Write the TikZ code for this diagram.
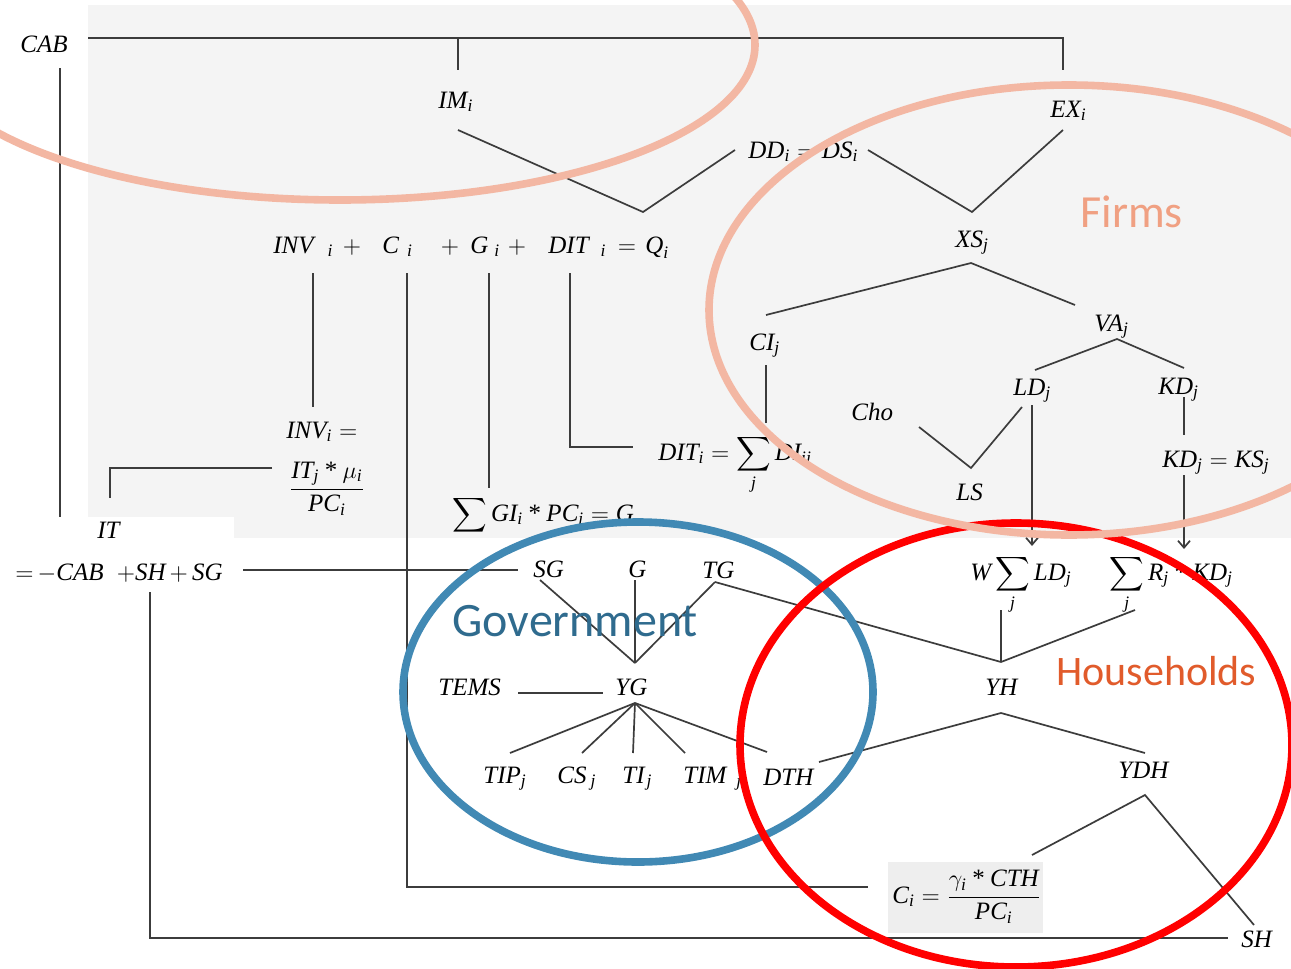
\documentclass[tikz,border=0pt]{standalone}
\usepackage{amsmath}
\usepackage{fontspec}
\setmainfont{Liberation Serif}
\newfontfamily\calib{Carlito}
\usetikzlibrary{arrows.meta}

\definecolor{panel}{HTML}{F4F4F4}
\definecolor{boxgray}{HTML}{EEEEEE}
\definecolor{linec}{HTML}{3C3C3C}
\definecolor{salmon}{HTML}{F3B7A3}
\definecolor{govring}{HTML}{4189B4}
\definecolor{hhring}{HTML}{FF0000}
\definecolor{firmtxt}{HTML}{F0A082}
\definecolor{govtxt}{HTML}{2F6B8E}
\definecolor{hhtxt}{HTML}{E15B2B}

% italic variable names in the serif text font
\newcommand\iv[1]{\text{\itshape #1}}
\newcommand\tms{\mathbin{\text{*}}}

\begin{document}
\begin{tikzpicture}[x=0.5pt,y=-0.5pt,
  txt/.style={inner sep=0pt,anchor=base west,font=\fontsize{12.5}{15}\selectfont},
  txtc/.style={txt,anchor=base},
  sector/.style={inner sep=0pt,anchor=base west},
  link/.style={draw=linec,line width=0.85pt},
  arr/.style={link,-{Straight Barb[length=3.5pt,width=6pt]}},
  ring/.style={line width=3.8pt}]

\useasboundingbox (0,0) rectangle (1291,969);
\clip (0,0) rectangle (1291,969);

% backgrounds
\fill[white] (0,0) rectangle (1291,969);
\fill[panel] (88,5) rectangle (1291,538);
\fill[white] (0,517) rectangle (234,540);
\fill[boxgray] (888,862) rectangle (1043,933);

% ---------- text nodes ----------
\node[txt] (cab) at (20,52) {\itshape CAB};
\node[txt] (im) at (438,108) {$\iv{IM}_{\iv{i}}$};
\node[txt] (ex) at (1050,117) {$\iv{EX}_{\iv{i}}$};
\node[txt] (dd) at (748,158) {$\iv{DD}_{\iv{i}}=\iv{DS}_{\iv{i}}$};
\node[txt] (xs) at (955,247) {$\iv{XS}_{\iv{j}}$};

\node[txt] (inv) at (273,253) {$\iv{INV}\hspace{7pt}{}_{\iv{i}}$};
\node[txtc] (plusA) at (352,253) {$+$};
\node[txt] (cterm) at (382,253) {$\iv{C}\hspace{4pt}{}_{\iv{i}}$};
\node[txtc] (plusB) at (450,253) {$+$};
\node[txt] (gterm) at (470,253) {$\iv{G}\hspace{3pt}{}_{\iv{i}}$};
\node[txtc] (plusC) at (517,253) {$+$};
\node[txt] (dit) at (548,253) {$\iv{DIT}\hspace{6pt}{}_{\iv{i}}$};
\node[txtc] (eqsign) at (627,253) {$=$};
\node[txt] (qterm) at (645,253) {$\iv{Q}_{\iv{i}}$};

\node[txt] (cij) at (749,350) {$\iv{CI}_{\iv{j}}$};
\node[txt] (va) at (1094,331) {$\iv{VA}_{\iv{j}}$};
\node[txt] (ld) at (1013,395) {$\iv{LD}_{\iv{j}}$};
\node[txt] (kd) at (1158,394) {$\iv{KD}_{\iv{j}}$};
\node[txt] (cho) at (851,420) {\itshape Cho};
\node[txt] (ls) at (956,500) {\itshape LS};
\node[txt] (kdks) at (1162,467) {$\iv{KD}_{\iv{j}}=\iv{KS}_{\iv{j}}$};
\node[txt] (ditsum) at (658,460) {$\iv{DIT}_{\iv{i}}=\displaystyle\sum_{\iv{j}}\iv{DI}_{\iv{ij}}$};

\node[txt] (inveq) at (286,438) {$\iv{INV}_{\iv{i}}=$};
\node[txtc] (invfrac) at (327,495) {$\dfrac{\iv{IT}_{\iv{j}}\tms\mu_{\iv{i}}}{\iv{PC}_{\iv{i}}}$};
\node[txt] (gsum) at (452,521) {$\displaystyle\sum\nolimits\iv{GI}_{\iv{i}}\tms\iv{PC}_{\iv{i}}=\iv{G}$};

\node[txt] (it) at (97,538) {\itshape IT};
\node[txt] (iteq) at (15,580) {${=}\,{-}\iv{CAB}\;\;{+}\iv{SH}\,{+}\,\iv{SG}$};

\node[txt] (sg) at (533,577) {\itshape SG};
\node[txt] (gov) at (628,577) {\itshape G};
\node[txt] (tg) at (702,578) {\itshape TG};
\node[txt] (wld) at (970,580) {$\iv{W}\displaystyle\sum_{\iv{j}}\iv{LD}_{\iv{j}}$};
\node[txt] (rkd) at (1109,580) {$\displaystyle\sum_{\iv{j}}\iv{R}_{\iv{j}}\tms\iv{KD}_{\iv{j}}$};

\node[txt] (tems) at (438,695) {\itshape TEMS};
\node[txt] (yg) at (615,695) {\itshape YG};
\node[txt] (yh) at (985,695) {\itshape YH};

\node[txt] (tip) at (483,783) {$\iv{TIP}_{\iv{j}}$};
\node[txt] (cs) at (557,783) {$\iv{CS}\hspace{2pt}{}_{\iv{j}}$};
\node[txt] (ti) at (622,783) {$\iv{TI}\hspace{1pt}{}_{\iv{j}}$};
\node[txt] (tim) at (683,783) {$\iv{TIM}\hspace{5pt}{}_{\iv{j}}$};
\node[txt] (dth) at (763,785) {\itshape DTH};
\node[txt] (ydh) at (1118,778) {\itshape YDH};
\node[txt] (ceq) at (892,903) {$\iv{C}_{\iv{i}}=\dfrac{\gamma_{\iv{i}}\tms\iv{CTH}}{\iv{PC}_{\iv{i}}}$};
\node[txt] (sh) at (1241,947) {\itshape SH};

% ---------- connector end points ----------
\coordinate (cabRight) at (88,38);
\coordinate (exCorner) at (1063,38);
\coordinate (exTop) at (1063,70);
\coordinate (imJoin) at (458,38);
\coordinate (imTop) at (458,70);
\coordinate (cabFoot) at (60,68);
\coordinate (cabEnd) at (60,517);
\coordinate (imFoot) at (458,130);
\coordinate (qJoin) at (643,212);
\coordinate (ddLeft) at (735,150);
\coordinate (dsRight) at (868,150);
\coordinate (xsJoin) at (972,212);
\coordinate (exFoot) at (1063,130);
\coordinate (ciHead) at (766,315);
\coordinate (xsFoot) at (971,263);
\coordinate (vaHead) at (1075,305);
\coordinate (ldHead) at (1035,370);
\coordinate (vaFoot) at (1117,339);
\coordinate (kdHead) at (1184,368);
\coordinate (kdFoot) at (1184,397);
\coordinate (ksHead) at (1184,435);
\coordinate (ksFoot) at (1184,475);
\coordinate (rkdHead) at (1184,549);
\coordinate (choEnd) at (919,427);
\coordinate (lsJoin) at (971,468);
\coordinate (ldLeft) at (1022,407);
\coordinate (ldFoot) at (1032,405);
\coordinate (wldHead) at (1032,546);
\coordinate (ciFoot) at (766,365);
\coordinate (ciEnd) at (766,423);
\coordinate (invFoot) at (313,273);
\coordinate (invHead) at (313,407);
\coordinate (cFoot) at (407,273);
\coordinate (cCorner) at (407,887);
\coordinate (ceqLeft) at (868,887);
\coordinate (gFoot) at (489,273);
\coordinate (gsumHead) at (489,488);
\coordinate (ditFoot) at (570,273);
\coordinate (ditCorner) at (570,447);
\coordinate (ditsumLeft) at (633,447);
\coordinate (fracLeft) at (272,468);
\coordinate (itCorner) at (110,468);
\coordinate (itHead) at (110,498);
\coordinate (shFoot) at (150,592);
\coordinate (shCorner) at (150,938);
\coordinate (shLeft) at (1228,938);
\coordinate (iteqRight) at (243,570);
\coordinate (sgLeft) at (518,570);
\coordinate (sgFoot) at (540,580);
\coordinate (govFoot) at (635,580);
\coordinate (tgFoot) at (715,582);
\coordinate (ygHead) at (635,663);
\coordinate (yhHead) at (1001,662);
\coordinate (rkdFoot) at (1135,610);
\coordinate (wldFoot) at (1001,610);
\coordinate (temsRight) at (518,693);
\coordinate (ygLeft) at (603,693);
\coordinate (ygFoot) at (635,703);
\coordinate (tipHead) at (510,753);
\coordinate (csHead) at (582,753);
\coordinate (tiHead) at (633,753);
\coordinate (timHead) at (685,753);
\coordinate (dthHead) at (767,752);
\coordinate (dthRight) at (819,762);
\coordinate (yhFoot) at (1001,713);
\coordinate (ydhHead) at (1145,753);
\coordinate (ceqRight) at (1032,855);
\coordinate (ydhFoot) at (1145,795);
\coordinate (shHead) at (1254,925);

% ---------- connectors ----------
\draw[link] (cabRight) -- (exCorner) -- (exTop);
\draw[link] (imJoin) -- (imTop);
\draw[link] (cabFoot) -- (cabEnd);
\draw[link] (imFoot) -- (qJoin) -- (ddLeft);
\draw[link] (dsRight) -- (xsJoin) -- (exFoot);
\draw[link] (ciHead) -- (xsFoot) -- (vaHead);
\draw[link] (ldHead) -- (vaFoot) -- (kdHead);
\draw[link] (kdFoot) -- (ksHead);
\draw[arr] (ksFoot) -- (rkdHead);
\draw[link] (choEnd) -- (lsJoin) -- (ldLeft);
\draw[arr] (ldFoot) -- (wldHead);
\draw[link] (ciFoot) -- (ciEnd);
\draw[link] (invFoot) -- (invHead);
\draw[link] (cFoot) -- (cCorner) -- (ceqLeft);
\draw[link] (gFoot) -- (gsumHead);
\draw[link] (ditFoot) -- (ditCorner) -- (ditsumLeft);
\draw[link] (fracLeft) -- (itCorner) -- (itHead);
\draw[link] (shFoot) -- (shCorner) -- (shLeft);
\draw[link] (iteqRight) -- (sgLeft);
\draw[link] (sgFoot) -- (ygHead);
\draw[link] (govFoot) -- (ygHead);
\draw[link] (tgFoot) -- (ygHead);
\draw[link] (tgFoot) -- (yhHead) -- (rkdFoot);
\draw[link] (wldFoot) -- (yhHead);
\draw[link] (temsRight) -- (ygLeft);
\foreach \leaf in {tipHead,csHead,tiHead,timHead,dthHead}
  \draw[link] (ygFoot) -- (\leaf);
\draw[link] (dthRight) -- (yhFoot) -- (ydhHead);
\draw[link] (ceqRight) -- (ydhFoot) -- (shHead);

% ---------- sector rings ----------
\draw[ring,govring] (638,692) ellipse [x radius=235, y radius=170];
\draw[ring,hhring] (1016,745) ellipse [x radius=276, y radius=222];
\draw[ring,salmon] (340,45) ellipse [x radius=415, y radius=155];
\draw[ring,salmon] (1069,310) ellipse [x radius=360, y radius=225];

% ---------- sector names ----------
\node[sector,text=firmtxt,font=\calib\fontsize{23}{27}\selectfont] (firms) at (1080,227) {Firms};
\node[sector,text=govtxt,font=\calib\fontsize{24}{28}\selectfont] (government) at (452,636) {Government};
\node[sector,text=hhtxt,font=\calib\fontsize{21}{25}\selectfont] (households) at (1056,685) {Households};
\end{tikzpicture}
\end{document}
